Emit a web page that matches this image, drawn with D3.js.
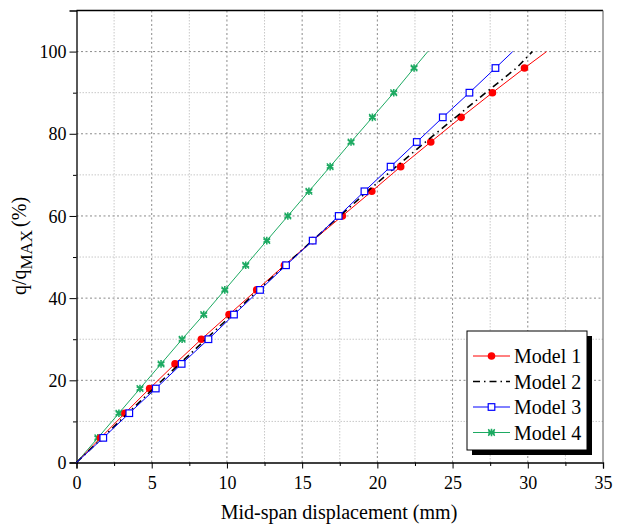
<!doctype html>
<html>
<head>
<meta charset="utf-8">
<script src="https://d3js.org/d3.v7.min.js"></script>
<style>
body { margin: 0; background: #fff; }
svg text { font-family: "Liberation Serif", "Times New Roman", serif; fill: #000; }
</style>
</head>
<body>
<div id="chart"></div>
<script>
// load levels (q/qMAX, %) at which displacements were read
var loads = [0, 6, 12, 18, 24, 30, 36, 42, 48, 54, 60, 66, 72, 78, 84, 90, 96, 100];

// mid-span displacement (mm) for each model, same order as loads
var model1 = [0, 1.6, 3.22, 4.86, 6.55, 8.3, 10.14, 11.98, 13.82, 15.7, 17.67, 19.63, 21.55, 23.55, 25.57, 27.65, 29.78, 31.25];
var model2 = [0, 1.72, 3.42, 5.12, 6.85, 8.6, 10.35, 12.1, 13.88, 15.68, 17.5, 19.35, 21.25, 23.2, 25.2, 27.2, 29.25, 30.3];
var model3 = [0, 1.78, 3.51, 5.27, 6.99, 8.77, 10.47, 12.2, 13.93, 15.7, 17.43, 19.14, 20.88, 22.62, 24.35, 26.12, 27.85, 29.0];
var model4 = [0, 1.42, 2.82, 4.22, 5.62, 7.02, 8.46, 9.86, 11.25, 12.65, 14.05, 15.45, 16.86, 18.25, 19.67, 21.09, 22.44, 23.35];

var xTicks = [0, 5, 10, 15, 20, 25, 30, 35];
var yTicks = [0, 20, 40, 60, 80, 100];
var seriesNames = ["Model 1", "Model 2", "Model 3", "Model 4"];

var width = 619, height = 529;
var margin = {left: 76.5, right: 16, top: 10.5, bottom: 66.5};

var svg = d3.select("#chart").append("svg")
  .attr("width", width).attr("height", height);

var x = d3.scaleLinear().domain([0, 35]).range([margin.left, width - margin.right]);
var y = d3.scaleLinear().domain([0, 110]).range([height - margin.bottom, margin.top]);

// grid - minor first (lighter), then major
var xMinor = d3.range(2.5, 35, 5), yMinor = d3.range(10, 110, 20);
var grid = svg.append("g");
grid.selectAll(".xminor").data(xMinor).enter().append("line")
  .attr("x1", d => x(d)).attr("x2", d => x(d))
  .attr("y1", y(0)).attr("y2", y(110))
  .attr("stroke", "#c8c8c8").attr("stroke-dasharray", "1.5,1.5");
grid.selectAll(".yminor").data(yMinor).enter().append("line")
  .attr("y1", d => y(d)).attr("y2", d => y(d))
  .attr("x1", x(0)).attr("x2", x(35))
  .attr("stroke", "#c8c8c8").attr("stroke-dasharray", "1.5,1.5");
grid.selectAll(".xmajor").data(xTicks.slice(1, -1)).enter().append("line")
  .attr("x1", d => x(d)).attr("x2", d => x(d))
  .attr("y1", y(0)).attr("y2", y(110))
  .attr("stroke", "#8a8a8a").attr("stroke-dasharray", "2,2.5");
grid.selectAll(".ymajor").data(yTicks.slice(1)).enter().append("line")
  .attr("y1", d => y(d)).attr("y2", d => y(d))
  .attr("x1", x(0)).attr("x2", x(35))
  .attr("stroke", "#8a8a8a").attr("stroke-dasharray", "2,2.5");

// axes
var xAxis = svg.append("g").attr("transform", "translate(0," + y(0) + ")")
  .call(d3.axisBottom(x).tickValues(xTicks).tickSize(6).tickPadding(5));
svg.append("g").attr("transform", "translate(0," + y(0) + ")")
  .call(d3.axisBottom(x).tickValues(xMinor).tickSize(3.5).tickFormat(""))
  .select(".domain").remove();
var yAxis = svg.append("g").attr("transform", "translate(" + x(0) + ",0)")
  .call(d3.axisLeft(y).tickValues(yTicks).tickSize(7).tickPadding(3));
svg.append("g").attr("transform", "translate(" + x(0) + ",0)")
  .call(d3.axisLeft(y).tickValues(yMinor).tickSize(3.5).tickFormat(""))
  .select(".domain").remove();
svg.selectAll(".tick text").style("font-size", "18px").style("font-family", "Liberation Serif");
svg.selectAll(".tick line").attr("stroke", "#000");
svg.selectAll(".domain").attr("stroke", "#000").attr("stroke-width", 1.3);
yAxis.selectAll(".tick text").attr("dy", "0.34em");
xAxis.selectAll(".tick text").attr("dy", "0.85em");

// frame top/right
svg.append("line").attr("x1", x(0)).attr("x2", x(35)).attr("y1", y(110)).attr("y2", y(110))
  .attr("stroke", "#000").attr("stroke-width", 1.3);
svg.append("line").attr("x1", x(35)).attr("x2", x(35)).attr("y1", y(110)).attr("y2", y(0))
  .attr("stroke", "#555").attr("stroke-width", 1);

// axis titles
svg.append("text").attr("x", 339).attr("y", 519)
  .attr("text-anchor", "middle").style("font-size", "20px")
  .text("Mid-span displacement (mm)");
var yl = svg.append("text").attr("transform", "translate(26," + 246 + ") rotate(-90)")
  .attr("text-anchor", "middle").style("font-size", "20px");
yl.append("tspan").text("q/q");
yl.append("tspan").attr("dy", 6).style("font-size", "17px").text("MAX");
yl.append("tspan").attr("dy", -6).attr("dx", 3).text("(%)");

// series
var series = [
  {name: seriesNames[0], xs: model1, color: "#ff0000", dash: null, marker: "circle"},
  {name: seriesNames[1], xs: model2, color: "#000000", dash: "7,4,1.5,4", marker: null},
  {name: seriesNames[2], xs: model3, color: "#0000ff", dash: null, marker: "square"},
  {name: seriesNames[3], xs: model4, color: "#1daa62", dash: null, marker: "star"}
];

var line = d3.line().x(d => x(d[0])).y(d => y(d[1]));

function drawMarker(g, type, color, cx, cy) {
  if (type === "circle") {
    g.append("circle").attr("cx", cx).attr("cy", cy).attr("r", 3.8).attr("fill", color);
  } else if (type === "square") {
    g.append("rect").attr("x", cx - 3.3).attr("y", cy - 3.3).attr("width", 6.6).attr("height", 6.6)
      .attr("fill", "#fff").attr("stroke", color).attr("stroke-width", 1.2);
  } else if (type === "star") {
    var s = d3.symbol().type(d3.symbolAsterisk).size(40);
    g.append("path").attr("d", s()).attr("transform", "translate(" + cx + "," + cy + ")")
      .attr("stroke", color).attr("stroke-width", 1.6).attr("fill", "none");
    g.append("path").attr("d", d3.symbol().type(d3.symbolTimes).size(30)())
      .attr("transform", "translate(" + cx + "," + cy + ")")
      .attr("stroke", color).attr("stroke-width", 1.3).attr("fill", "none");
  }
}

// draw order: model 4, model 1, model 2, model 3
[3, 0, 1, 2].forEach(function(i) {
  var s = series[i];
  var pts = s.xs.map((v, k) => [v, loads[k]]);
  var g = svg.append("g");
  g.append("path").attr("d", line(pts)).attr("fill", "none")
    .attr("stroke", s.color).attr("stroke-width", s.dash ? 1.6 : 1)
    .attr("stroke-dasharray", s.dash);
  if (s.marker) {
    pts.forEach(function(p, k) {
      if (k === 0 || k === pts.length - 1) return;
      drawMarker(g, s.marker, s.color, x(p[0]), y(p[1]));
    });
  }
});

// legend
var lx = 467, ly = 331, lw = 120, lh = 119;
svg.append("rect").attr("x", lx + 5).attr("y", ly + 5).attr("width", lw).attr("height", lh).attr("fill", "#000");
svg.append("rect").attr("x", lx).attr("y", ly).attr("width", lw).attr("height", lh)
  .attr("fill", "#fff").attr("stroke", "#000").attr("stroke-width", 1);
series.forEach(function(s, i) {
  var ry = ly + 25 + i * 25.5;
  svg.append("line").attr("x1", lx + 6).attr("x2", lx + 43).attr("y1", ry).attr("y2", ry)
    .attr("stroke", s.color).attr("stroke-width", s.dash ? 1.6 : 1)
    .attr("stroke-dasharray", s.dash);
  if (s.marker) drawMarker(svg, s.marker, s.color, lx + 24.5, ry);
  svg.append("text").attr("x", lx + 47).attr("y", ry + 7)
    .style("font-size", "20px").text(s.name);
});
</script>
</body>
</html>
